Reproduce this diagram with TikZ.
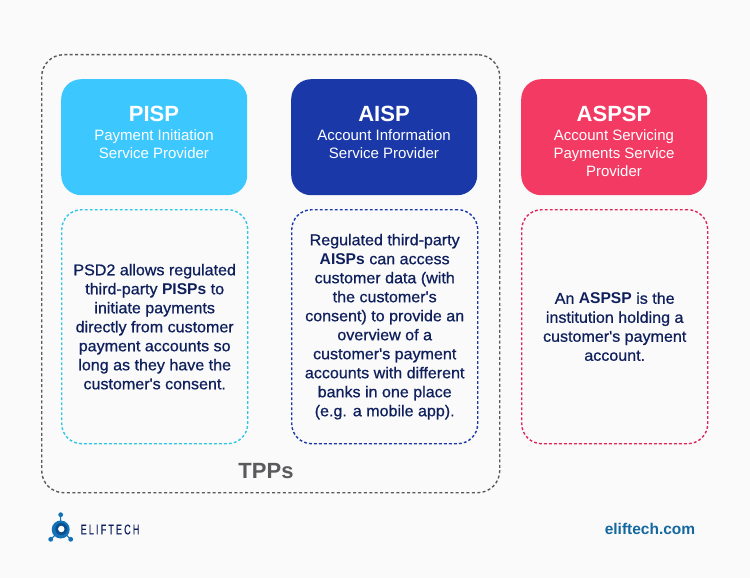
\documentclass[tikz,border=0pt]{standalone}
\usepackage{fontspec}
\setmainfont{Liberation Sans}
\newfontfamily\medf[FakeBold=0.7,FakeStretch=1.03]{Liberation Sans}
\newfontfamily\brandf[FakeStretch=0.65,LetterSpace=15,FakeBold=0.3]{Liberation Sans}
\definecolor{bgc}{HTML}{FAFAFA}
\definecolor{pispc}{HTML}{3CC8FF}
\definecolor{pispd}{HTML}{30C6E6}
\definecolor{aispc}{HTML}{1A38A8}
\definecolor{aspc}{HTML}{F23A63}
\definecolor{aspd}{HTML}{DE2459}
\definecolor{navy}{HTML}{0E1F5C}
\definecolor{tppc}{HTML}{5A5A5E}
\definecolor{logoc}{HTML}{1272B8}
\definecolor{logod}{HTML}{0C4F8C}
\definecolor{urlc}{HTML}{14689F}
\newcommand{\bn}[1]{{\fontspec{Liberation Sans}\bfseries #1}}
\tikzset{
  head/.style={rounded corners=20pt,minimum width=186pt,minimum height=116pt,inner sep=0pt,text=white,align=center,anchor=north west},
  body/.style={rounded corners=20pt,dash pattern=on 2.8pt off 2.2pt,line width=1.4pt,minimum width=186pt,minimum height=234pt,inner sep=0pt,anchor=north west,align=center,text=navy,font=\fontsize{15.6}{19}\selectfont\medf},
  ttl/.style={font=\fontsize{22}{24}\selectfont\bfseries},
  sub/.style={font=\fontsize{15}{18}\selectfont},
  lt/.style={text=white,anchor=center,inner sep=0pt,align=center},
}
\begin{document}
\begin{tikzpicture}[x=1pt,y=-1pt]
\useasboundingbox[fill=bgc] (0,0) rectangle (750,578);
\node[draw=tppc,rounded corners=22pt,dash pattern=on 3pt off 2.4pt,line width=1.4pt,minimum width=458pt,minimum height=438pt,inner sep=0pt,anchor=north west] (tpp) at (41,54) {};
\node[head,fill=pispc] (pisp) at (61,79) {};
\node[head,fill=aispc] (aisp) at (291,79) {};
\node[head,fill=aspc] (aspsp) at (521,79) {};
\node[lt,ttl] (t1) at (154,114) {PISP};
\node[lt,sub] (s1) at (154,144) {Payment Initiation\\Service Provider};
\node[lt,ttl] (t2) at (384,114) {AISP};
\node[lt,sub] (s2) at (384,144) {Account Information\\Service Provider};
\node[lt,ttl] (t3) at (614,114) {ASPSP};
\node[lt,sub] (s3) at (614,153) {Account Servicing\\Payments Service\\Provider};
\node[body,draw=pispd] (b1) at (61,209) {PSD2 allows regulated\\third-party \bn{PISPs} to\\initiate payments\\directly from customer\\payment accounts so\\long as they have the\\customer's consent.};
\node[body,draw=aispc] (b2) at (291,209) {Regulated third-party\\\bn{AISPs} can access\\customer data (with\\the customer's\\consent) to provide an\\overview of a\\customer's payment\\accounts with different\\banks in one place\\(e.g. a mobile app).};
\node[body,draw=aspd] (b3) at (521,209) {An \bn{ASPSP} is the\\institution holding a\\customer's payment\\account.};
\node[text=tppc,font=\fontsize{22}{24}\selectfont\bfseries,inner sep=0pt] (tl) at (266,471) {TPPs};
\coordinate (lc) at (60.7,529.5);
\coordinate (la) at (60.7,514.7);
\coordinate (lb) at (50.7,539.3);
\coordinate (ld) at (70.7,539.3);
\draw[logoc,line width=1pt] (lc) -- (la) (lc) -- (lb) (lc) -- (ld);
\fill[logoc] (la) circle (2.4pt) (lb) circle (2.4pt) (ld) circle (2.4pt);
\fill[logoc] (lc) circle (9pt);
\fill[logod] (lc) ++(0.6,-0.5) circle (6pt);
\fill[white] (lc) ++(0.6,-0.5) circle (3.2pt);
\node[text=navy,font=\fontsize{14}{15}\selectfont\brandf,inner sep=0pt,anchor=west] (brand) at (80.5,529.5) {ELIFTECH};
\node[text=urlc,font=\fontsize{15.5}{18}\selectfont\bfseries,inner sep=0pt] (url) at (650,529) {eliftech.com};
\end{tikzpicture}
\end{document}
